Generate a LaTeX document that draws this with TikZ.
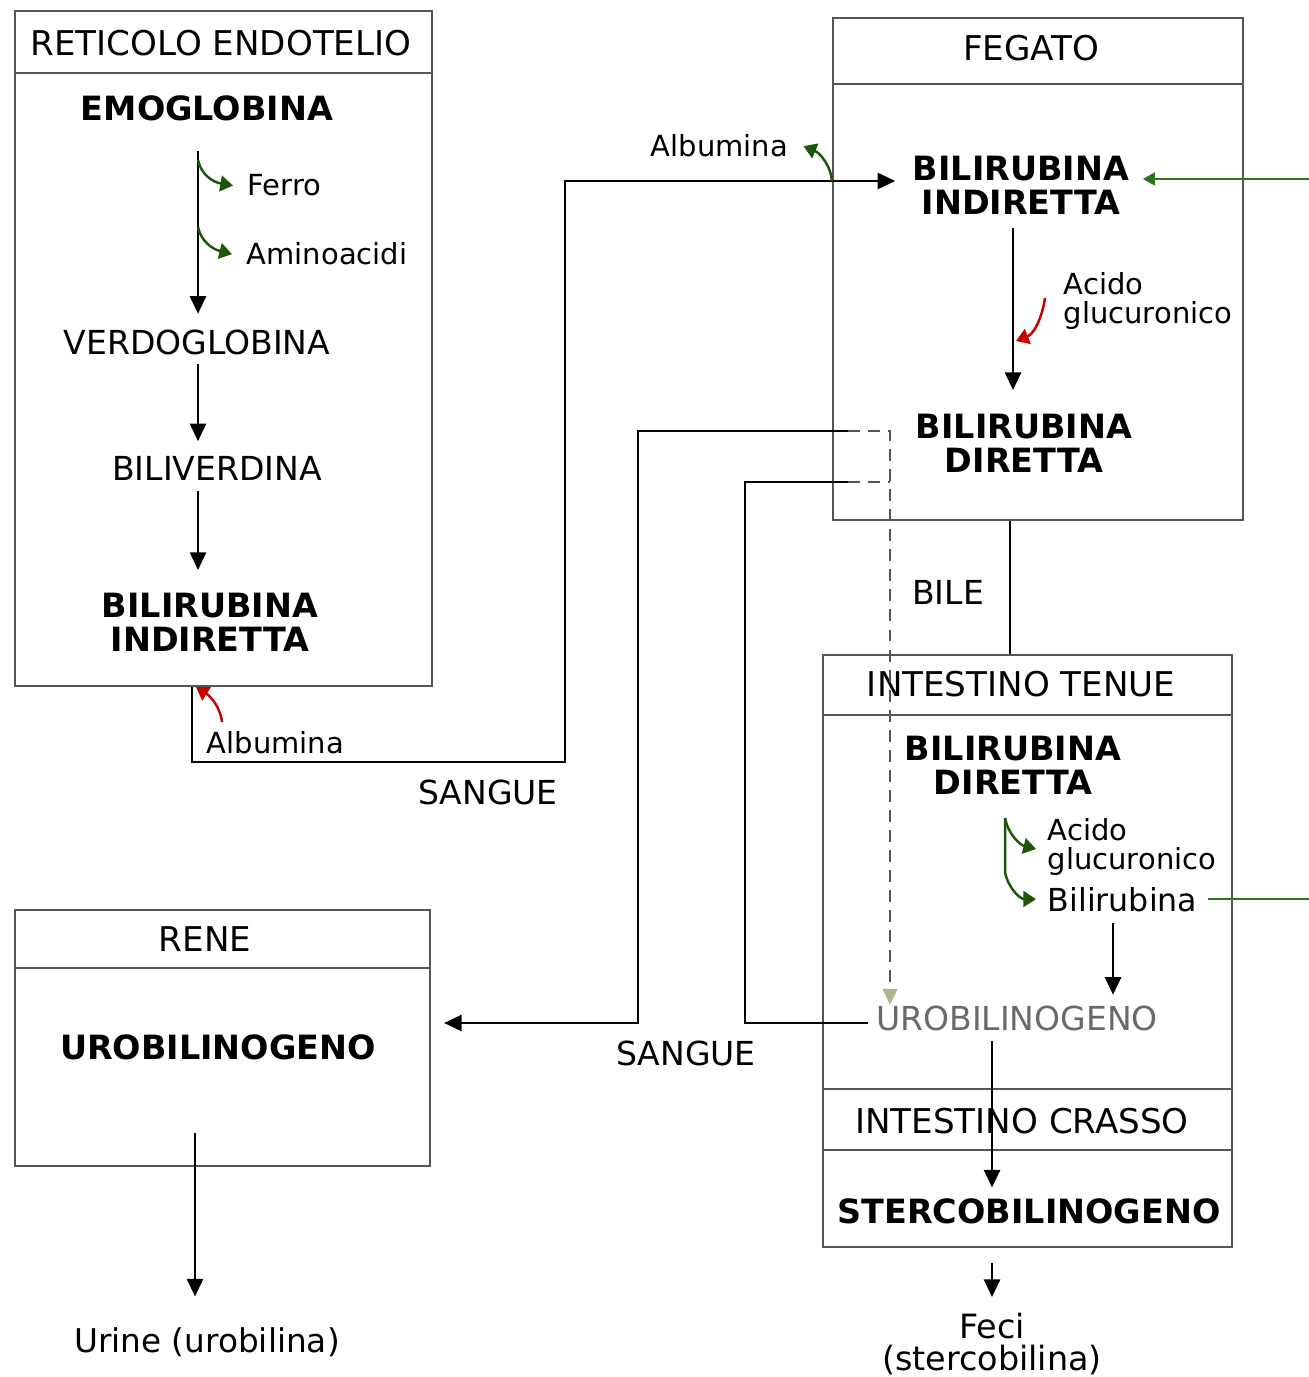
\documentclass[tikz,border=0pt]{standalone}
\usepackage{fontspec}
\setmainfont{DejaVu Sans}
\usetikzlibrary{arrows.meta, positioning, fit}
\definecolor{boxgray}{RGB}{85,85,85}
\definecolor{leafgreen}{RGB}{30,85,10}
\definecolor{linkgreen}{RGB}{45,115,25}
\definecolor{bloodred}{RGB}{200,0,0}
\definecolor{urogray}{RGB}{105,105,105}
\definecolor{tipsage}{RGB}{170,185,140}

\begin{document}
\begin{tikzpicture}[x=0.01cm, y=-0.01cm,
    organ/.style={draw=boxgray, line width=0.6pt, inner sep=0pt},
    hdr/.style={font=\fontsize{9.7}{11}\selectfont, inner sep=0pt, anchor=base},
    chem/.style={font=\fontsize{9.4}{11}\selectfont, inner sep=0pt, anchor=base},
    chembf/.style={font=\bfseries\fontsize{9.5}{9.8}\selectfont, align=center, inner sep=0pt},
    note/.style={font=\fontsize{8.25}{8.3}\selectfont, align=left, inner sep=0pt},
    flow/.style={line width=0.6pt, -{Triangle[width=4.6pt,length=5pt]}},
    pipe/.style={line width=0.6pt},
    greenhook/.style={leafgreen, line width=0.7pt, -{Triangle[width=4.5pt,length=3.6pt]}},
    redhook/.style={bloodred, line width=0.7pt, -{Triangle[width=4.5pt,length=3.6pt]}}]
    \useasboundingbox (0,0) rectangle (1308,1377);

    % Organ boxes with their header strip
    \foreach \nm/\xa/\ya/\xb/\yb/\hy in {ret/15/11/432/686/73, feg/833/18/1243/520/84,
                                        int/823/655/1232/1247/715, ren/15/910/430/1166/968} {
        \coordinate (\nm-nw) at (\xa,\ya);
        \coordinate (\nm-se) at (\xb,\yb);
        \node[organ, fit=(\nm-nw)(\nm-se)] (\nm) {};
        \draw[organ] (\xa,\hy) -- (\xb,\hy);
    }
    \draw[organ] (int.west |- 0,1089) -- (int.east |- 0,1089);
    \draw[organ] (int.west |- 0,1150) -- (int.east |- 0,1150);

    \node[hdr] (ret-t) at (221,56) {RETICOLO ENDOTELIO};
    \node[hdr] (feg-t) at (1031,61) {FEGATO};
    \node[hdr] (int-t) at (1021,697) {INTESTINO TENUE};
    \node[hdr] (cra-t) at (1022,1133) {INTESTINO CRASSO};
    \node[hdr] (ren-t) at (205,951) {RENE};

    % Reticolo endotelio
    \node[chembf, anchor=base] (emo) at (207,121) {EMOGLOBINA};
    \node[note, anchor=base west] (ferro) at (247,196) {Ferro};
    \node[note, anchor=base west] (amino) at (246,265) {Aminoacidi};
    \node[chem] (verd) at (197,355) {VERDOGLOBINA};
    \node[chem] (biliv) at (217,481) {BILIVERDINA};
    \node[chembf, anchor=north] (bri) at (210,592) {BILIRUBINA\\INDIRETTA};

    \draw[flow, shorten <=0.29cm, shorten >=0.16cm] (198,0 |- emo.south) -- (198,0 |- verd.north);
    \draw[flow, shorten <=0.08cm, shorten >=0.15cm] (198,0 |- verd.south) -- (198,0 |- biliv.north);
    \draw[flow, shorten <=0.09cm, shorten >=0.22cm] (198,0 |- biliv.south) -- (198,0 |- bri.north);
    \foreach \lab/\ys in {ferro/160, amino/227}
        \draw[greenhook] (198,\ys) .. controls (201,\ys+14) and (212,\ys+22) .. ([xshift=-0.14cm]\lab.west);

    % Sangue verso il fegato
    \node[note, anchor=base west] (alb1) at (206,753) {Albumina};
    \node[chem] (sang1) at (488,804) {SANGUE};
    \draw[redhook] (222,722) .. controls (220,706) and (210,696) .. (ret.south -| 196,0);

    % Fegato
    \node[chembf, anchor=north] (fbi) at (1021,155) {BILIRUBINA\\INDIRETTA};
    \node[chembf, anchor=north] (fbd) at (1024,413) {BILIRUBINA\\DIRETTA};
    \node[note, anchor=north west] (acid1) at (1063,272) {Acido\\glucuronico};
    \node[note, anchor=base west] (alb2) at (650,157) {Albumina};

    \draw[flow] (ret.south -| 192,0) |- (565,762) |- ([xshift=-0.17cm]fbi.west |- 0,181);
    \draw[greenhook] (feg.west |- 0,181) .. controls (831,166) and (820,153) .. ([xshift=0.15cm]alb2.east);
    \draw[flow, shorten <=0.13cm, shorten >=0.23cm] (1013,0 |- fbi.south) -- (1013,0 |- fbd.north);
    \draw[redhook] (1045,298) .. controls (1042,318) and (1034,334) .. (1016,341);

    % Bile
    \node[chem] (bile) at (948,605) {BILE};
    \draw[pipe] (feg.south -| 1010,0) -- (int.north -| 1010,0);

    % Intestino
    \node[chembf, anchor=north] (ibd) at (1013,735) {BILIRUBINA\\DIRETTA};
    \node[note, anchor=north west] (acid2) at (1047,818) {Acido\\glucuronico};
    \node[note, anchor=base west, font=\fontsize{9}{10}\selectfont] (bil) at (1047,911) {Bilirubina};
    \node[chem, text=urogray] (uro) at (1017,1030) {UROBILINOGENO};
    \node[chembf, anchor=base] (sterco) at (1029,1223) {STERCOBILINOGENO};
    \node[chem, anchor=north, align=center, font=\fontsize{9.5}{9.1}\selectfont] (feci) at (992,1312) {Feci\\(stercobilina)};

    \draw[greenhook] (1005,818) .. controls (1008,834) and (1020,845) .. (1036,849);
    \draw[greenhook] (1005,818) -- (1005,872) .. controls (1008,888) and (1020,899) .. ([xshift=-0.11cm]bil.west);
    \draw[linkgreen, line width=0.6pt, -{Triangle[width=3.6pt,length=3.4pt]}]
        ([xshift=0.1cm]bil.east) -- (1330,0 |- bil.east) |- ([xshift=0.13cm]fbi.east |- 0,179);
    \draw[flow, shorten <=0.11cm, shorten >=0.1cm] (1113,0 |- bil.south) -- (1113,0 |- uro.north);
    \draw[flow, shorten <=0.1cm, shorten >=0.1cm] (992,0 |- uro.south) -- (992,0 |- sterco.north);
    \draw[flow, shorten <=0.15cm, shorten >=0.15cm] (int.south -| feci.north) -- (feci.north);

    % Circolo enteroepatico
    \coordinate (loop-top) at (848,431);
    \coordinate (loop-bot) at (848,482);
    \node[chem] (sang2) at (686,1065) {SANGUE};
    \draw[flow] (loop-top) -| (638,1023) -- ([xshift=0.13cm]ren.east |- 0,1023);
    \draw[pipe] ([xshift=-0.07cm]uro.west |- 0,1023) -| (745,482) -- (loop-bot);
    \draw[pipe, boxgray, dash pattern=on 3.4pt off 2.3pt, -{Triangle[width=4.2pt,length=4.5pt,color=tipsage]}]
        (loop-top) -- (890,431) -- (890,0 |- uro.north);
    \draw[pipe, boxgray, dash pattern=on 3.4pt off 2.3pt] (loop-bot) -- (890,482);

    % Rene
    \node[chembf, anchor=base] (renu) at (218,1059) {UROBILINOGENO};
    \node[chem, font=\fontsize{9.3}{11}\selectfont] (urine) at (207,1352) {Urine (urobilina)};
    \draw[flow, shorten <=0.73cm, shorten >=0.3cm] (195,0 |- renu.south) -- (195,0 |- urine.north);
\end{tikzpicture}
\end{document}
